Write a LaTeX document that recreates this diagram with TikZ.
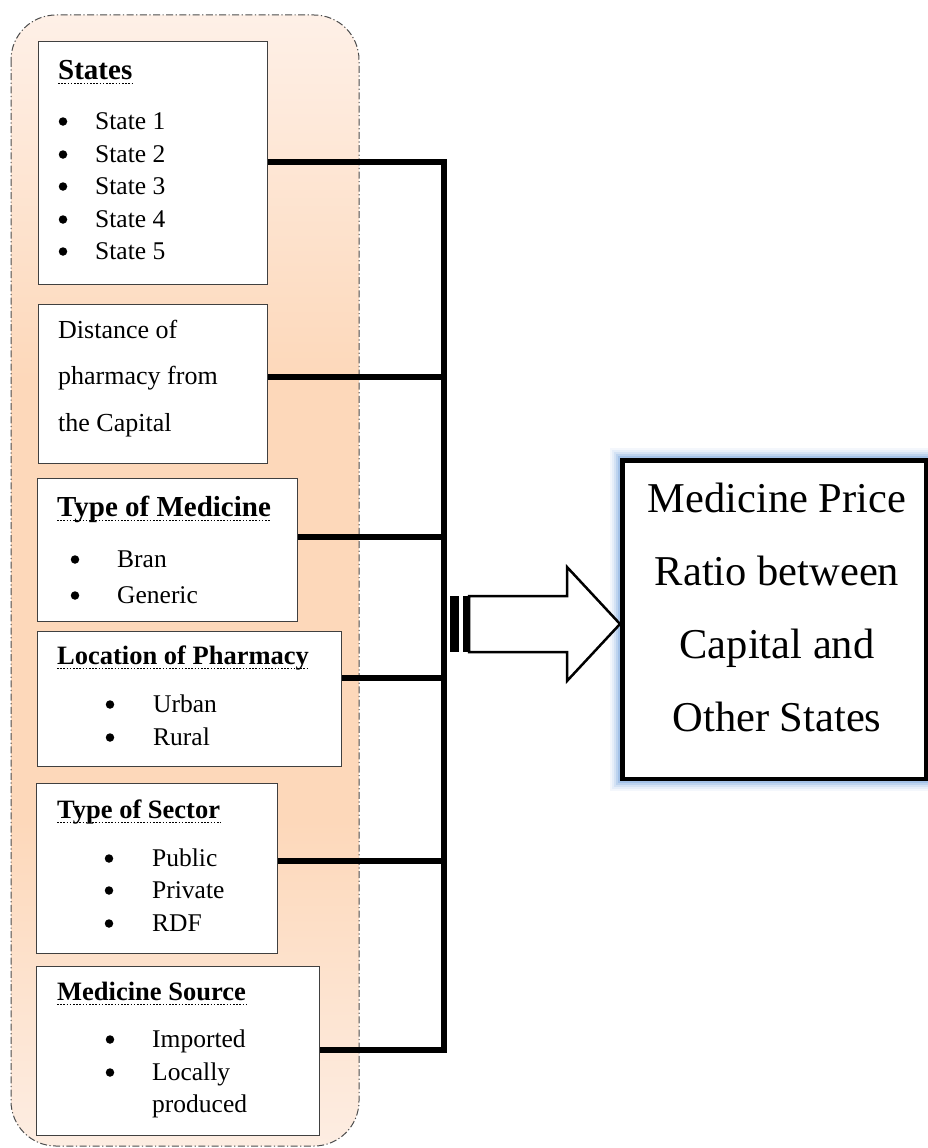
\documentclass[tikz,border=0pt]{standalone}
\usepackage{fontspec}
\setmainfont{Liberation Serif}
\definecolor{pTop}{HTML}{FEF0E7}
\definecolor{pMid}{HTML}{FDD8BA}
\definecolor{pBot}{HTML}{FDEDE2}
\definecolor{glow}{HTML}{8DB3E2}
\begin{document}
\begin{tikzpicture}[x=1pt,y=-1pt,
  box/.style={draw=black!75, line width=1.2pt, fill=white, inner sep=0pt, anchor=north west},
  itm/.style={font=\fontsize{25.5}{30}\selectfont, anchor=base west, inner sep=0pt},
  bul/.style={circle, fill=black, inner sep=0pt, minimum size=8.5pt, yshift=7.5pt},
  ttl/.style={font=\bfseries\fontsize{26.5}{30}\selectfont, anchor=base west, inner sep=0pt},
  bigttl/.style={ttl, font=\bfseries\fontsize{29}{32}\selectfont},
  dtxt/.style={font=\fontsize{26}{30}\selectfont, anchor=base west, inner sep=0pt},
  ul/.style={line width=1.6pt, dash pattern=on 1.6pt off 1.6pt},
  conn/.style={line width=6pt, line join=miter},
  panel/.style={draw=black!70, line width=1pt, dash pattern=on 7pt off 2.5pt on 1.2pt off 2.5pt},
]
\useasboundingbox (0,0) rectangle (928,1148);

% background panel
\begin{scope}
  \clip[rounded corners=45pt] (11,15) rectangle (359,1146);
  \shade[top color=pTop, bottom color=pMid] (11,15) rectangle (359,380);
  \fill[pMid] (11,379) rectangle (359,821);
  \shade[top color=pMid, bottom color=pBot] (11,820) rectangle (359,1146);
\end{scope}
\draw[panel, rounded corners=45pt] (11,15) rectangle (359,1146);

% boxes
\node[box, minimum width=229pt, minimum height=243pt] (b1) at (38,41) {};
\node[box, minimum width=229pt, minimum height=159pt] (b2) at (38,304) {};
\node[box, minimum width=260pt, minimum height=143pt] (b3) at (37,478) {};
\node[box, minimum width=304pt, minimum height=135pt] (b4) at (37,631) {};
\node[box, minimum width=241pt, minimum height=170pt] (b5) at (36,783) {};
\node[box, minimum width=283pt, minimum height=169pt] (b6) at (36,966) {};

% box 1
\node[bigttl] (t1) at (58,79) {States};
\draw[ul] ([yshift=-4.5pt]t1.base west) -- ([yshift=-4.5pt]t1.base east);
\foreach \y/\t [count=\i] in {129/State 1, 162/State 2, 194/State 3, 227/State 4, 259/State 5}{
  \node[bul] (sb\i) at (63,\y) {};
  \node[itm] (s\i) at (95,\y) {\t};
}

% box 2
\node[dtxt] (d1) at (58,338) {Distance of};
\node[dtxt] (d2) at (58,384) {pharmacy from};
\node[dtxt] (d3) at (58,431) {the Capital};

% box 3
\node[bigttl] (t3) at (57,516) {Type of Medicine};
\draw[ul] ([yshift=-4.5pt]t3.base west) -- ([yshift=-4.5pt]t3.base east);
\foreach \y/\t [count=\i] in {567/Bran, 603/Generic}{
  \node[bul] (mb\i) at (75,\y) {};
  \node[itm] (m\i) at (117,\y) {\t};
}

% box 4
\node[ttl] (t4) at (57,664) {Location of Pharmacy};
\draw[ul] ([yshift=-4.5pt]t4.base west) -- ([yshift=-4.5pt]t4.base east);
\foreach \y/\t [count=\i] in {712/Urban, 745/Rural}{
  \node[bul] (lb\i) at (110,\y) {};
  \node[itm] (l\i) at (153,\y) {\t};
}

% box 5
\node[ttl] (t5) at (57,818) {Type of Sector};
\draw[ul] ([yshift=-4.5pt]t5.base west) -- ([yshift=-4.5pt]t5.base east);
\foreach \y/\t [count=\i] in {866/Public, 898/Private, 931/RDF}{
  \node[bul] (xb\i) at (109,\y) {};
  \node[itm] (x\i) at (152,\y) {\t};
}

% box 6
\node[ttl] (t6) at (57,1000) {Medicine Source};
\draw[ul] ([yshift=-4.5pt]t6.base west) -- ([yshift=-4.5pt]t6.base east);
\node[bul] (ob1) at (110,1047) {};
\node[itm] (o1) at (152,1047) {Imported};
\node[bul] (ob2) at (110,1080) {};
\node[itm] (o2) at (152,1080) {Locally};
\node[itm] (o3) at (152,1112) {produced};

% bus
\coordinate (j1) at (443.5,162);
\coordinate (j2) at (443.5,377);
\coordinate (j3) at (443.5,537);
\coordinate (j4) at (443.5,678);
\coordinate (j5) at (443.5,861);
\coordinate (j6) at (443.5,1050);
\draw[conn] (b1.east |- j1) -- (j1) -- (j6) -- (b6.east |- j6);
\draw[conn] (b2.east |- j2) -- (j2);
\draw[conn] (b3.east |- j3) -- (j3);
\draw[conn] (b4.east |- j4) -- (j4);
\draw[conn] (b5.east |- j5) -- (j5);

% output box
\node[draw, line width=4.5pt, fill=white, inner sep=0pt, anchor=north west,
  minimum width=303.5pt, minimum height=318.5pt,
  preaction={draw=glow!10, line width=24pt, rounded corners=6pt},
  preaction={draw=glow!22, line width=20pt, rounded corners=4pt},
  preaction={draw=glow!38, line width=16pt, rounded corners=3pt},
  preaction={draw=glow!58, line width=12pt, rounded corners=2pt},
  preaction={draw=glow!80, line width=8pt}] (out) at (620,458) {};
\node[align=center, font=\fontsize{42.5}{73}\selectfont, inner sep=0pt] (outtxt) at (777,607)
  {Medicine Price\\Ratio between\\Capital and\\Other States};

% block arrow
\coordinate (tip) at (620,624);
\draw[line width=2.5pt, line join=miter, fill=white]
  (469,596) -- (567,596) -- (567,567) -- (tip) -- (567,681) -- (567,652) -- (469,652) -- cycle;
\fill (450,596) rectangle (459,652);
\fill (463,596) rectangle (469,652);
\end{tikzpicture}
\end{document}
